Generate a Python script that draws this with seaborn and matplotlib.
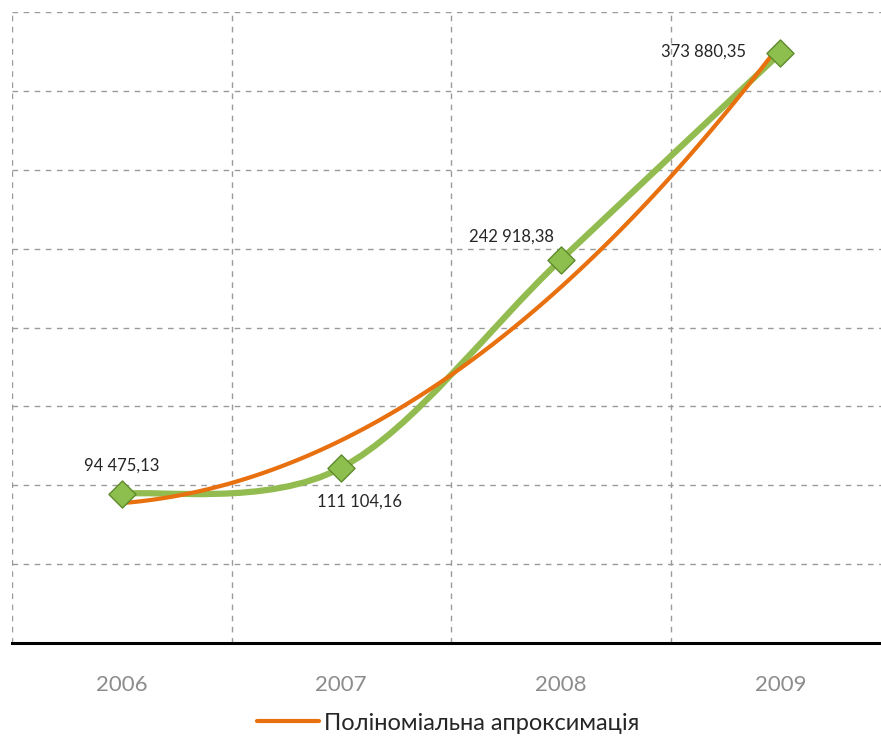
import numpy as np
import pandas as pd
import matplotlib
matplotlib.use("Agg")
import matplotlib.pyplot as plt
from matplotlib.path import Path
from matplotlib.patches import PathPatch
from matplotlib.lines import Line2D
import seaborn as sns

years = ["2006", "2007", "2008", "2009"]
values = [94475.13, 111104.16, 242918.38, 373880.35]
labels = ["94 475,13", "111 104,16", "242 918,38", "373 880,35"]
legend_label = "Поліноміальна апроксимація"

sns.set_theme(style="white")
plt.rcParams["font.family"] = ["Lato", "DejaVu Sans"]

GREEN = "#93BC50"
ORANGE = "#E8700F"

W, H = 881, 738
fig = plt.figure(figsize=(W / 100, H / 100), dpi=100)
ax = fig.add_axes([12 / W, (H - 643) / H, 878 / W, (643 - 12) / H])

df = pd.DataFrame({"x": np.arange(len(years)), "y": values})

# smoothed green line (Excel-style bezier through points)
pts = df[["x", "y"]].to_numpy(dtype=float)
verts = [tuple(pts[0])]
codes = [Path.MOVETO]
n = len(pts)
for i in range(n - 1):
    p0 = pts[i - 1] if i > 0 else pts[i]
    p1 = pts[i]
    p2 = pts[i + 1]
    p3 = pts[i + 2] if i + 2 < n else pts[i + 1]
    c1 = p1 + (p2 - p0) / 6.0
    c2 = p2 - (p3 - p1) / 6.0
    verts += [tuple(c1), tuple(c2), tuple(p2)]
    codes += [Path.CURVE4] * 3
ax.add_patch(PathPatch(Path(verts, codes), facecolor="none", edgecolor=GREEN,
                       lw=4.5, capstyle="round", zorder=3))

# polynomial trend (order 2)
sns.regplot(data=df, x="x", y="y", order=2, ci=None, scatter=False, truncate=True,
            line_kws=dict(color=ORANGE, lw=3, zorder=4), ax=ax)

# markers
sns.scatterplot(data=df, x="x", y="y", marker="D", s=190, color="#8DBF4E",
                edgecolor="#5F8A2C", linewidth=1.0, zorder=5, ax=ax)

# data labels (offsets in pixels)
offsets = [(0, 28), (18, -34), (-49, 23), (-77, 2)]
for i, (lab, (dx, dy)) in enumerate(zip(labels, offsets)):
    ax.annotate(lab, (i, values[i]), xytext=(dx * 0.72, dy * 0.72), textcoords="offset points",
                ha="center", va="center", fontsize=12, color="#262626", zorder=6)

ax.set_xlim(-0.5, 3.5)
ax.set_ylim(0, 400000)
ax.set_yticks(np.arange(0, 400001, 50000))
ax.set_yticklabels([])
ax.set_xticks(range(len(years)))
ax.set_xticklabels(years, fontsize=16, color="#8C8C8C")
ax.tick_params(axis="x", direction="in", length=5, width=2, color="black", pad=23)
ax.tick_params(axis="y", length=0)
ax.set_xticks([-0.5, 0.5, 1.5, 2.5, 3.5], minor=True)
ax.grid(True, axis="y", which="major", ls=(0, (4, 4)), color="#9A9A9A", lw=1)
ax.grid(True, axis="x", which="minor", ls=(0, (4, 4)), color="#9A9A9A", lw=1)
ax.grid(False, axis="x", which="major")
ax.tick_params(axis="x", which="minor", length=0)
for s in ["left", "right", "top"]:
    ax.spines[s].set_visible(False)
ax.spines["bottom"].set_color("black")
ax.spines["bottom"].set_linewidth(2.2)
ax.set_xlabel("")
ax.set_ylabel("")

handle = Line2D([0], [0], color=ORANGE, lw=3)
fig.legend([handle], [legend_label], loc="center", bbox_to_anchor=(0.509, 0.020),
           frameon=False, fontsize=17, handlelength=2.6, handletextpad=0.25,
           labelcolor="#262626")

fig.savefig("out.png", dpi=100)
